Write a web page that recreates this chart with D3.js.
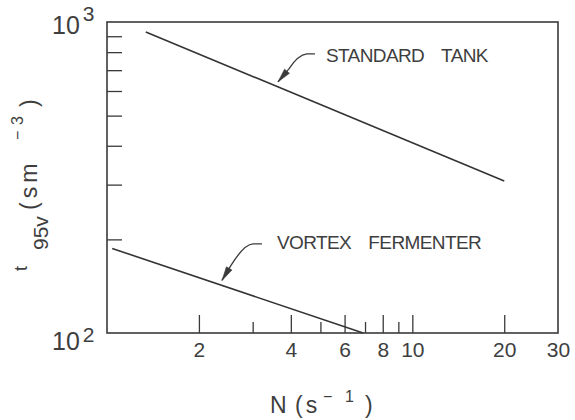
<!DOCTYPE html>
<html>
<head>
<meta charset="utf-8">
<script src="https://cdn.jsdelivr.net/npm/d3@7"></script>
<style>
  html, body { margin: 0; padding: 0; background: #fff; }
  svg { display: block; }
  text { font-family: "Liberation Sans", Arial, sans-serif; fill: #3e3e3e; }
</style>
</head>
<body>
<svg id="chart" width="575" height="420"></svg>
<script>
// Mixing time t95v versus agitation speed N (log–log), two vessel types

// Series end points: agitation speed N (1/s) and mixing time (s m^-3)
const standardN = [1.34, 20];
const standardT = [929, 308];
const vortexN = [1.04, 6.9];
const vortexT = [187, 100];

const seriesNames = ["STANDARD TANK", "VORTEX FERMENTER"];
// speed at which each label's arrow points onto its line
const arrowAtN = [3.63, 2.38];

// Axis ticks
const xMajorTicks = [2, 4, 6, 8, 10, 20];
const xMinorTicks = [3, 5, 7, 9];
const xTickLabels = [2, 4, 6, 8, 10, 20, 30];
const yMinorTicks = [200, 300, 400, 500, 600, 700, 800, 900];
const yDecades = [100, 1000];

const ink = "#3a3a3a";
const svg = d3.select("#chart");

const x = d3.scaleLog().domain([1, 30]).range([107, 558]);
const y = d3.scaleLog().domain([100, 1000]).range([333, 22]);

// ---- frame ----
svg.append("rect")
  .attr("x", x.range()[0]).attr("y", y.range()[1])
  .attr("width", x.range()[1] - x.range()[0])
  .attr("height", y.range()[0] - y.range()[1])
  .attr("fill", "none").attr("stroke", ink).attr("stroke-width", 1.6);

function styleAxis(g) {
  g.select(".domain").remove();
  g.selectAll(".tick line").attr("stroke", ink).attr("stroke-width", 1.3);
}

// ---- x axis: inward ticks, labels below ----
const xBase = y.range()[0];
svg.append("g").attr("transform", `translate(0,${xBase})`)
  .call(d3.axisBottom(x).tickValues(xMajorTicks).tickSize(-18).tickFormat(""))
  .call(styleAxis);
svg.append("g").attr("transform", `translate(0,${xBase})`)
  .call(d3.axisBottom(x).tickValues(xMinorTicks).tickSize(-11).tickFormat(""))
  .call(styleAxis);
const xLab = svg.append("g").attr("transform", `translate(0,${xBase})`)
  .call(d3.axisBottom(x).tickValues(xTickLabels).tickSize(0).tickPadding(9).tickFormat(d3.format("d")))
  .call(styleAxis);
xLab.selectAll("text")
  .attr("font-family", null).attr("font-size", 21).attr("fill", "#3e3e3e");
xLab.attr("font-family", null).attr("font-size", null);

// ---- y axis: inward minor ticks, decade labels as powers of ten ----
svg.append("g").attr("transform", `translate(${x.range()[0]},0)`)
  .call(d3.axisLeft(y).tickValues(yMinorTicks).tickSize(-15).tickFormat(""))
  .call(styleAxis);

const decadeLayout = { 100: { dy: 17, sup: -8 }, 1000: { dy: 12, sup: -13 } };
yDecades.forEach(v => {
  const lay = decadeLayout[v];
  const t = svg.append("text")
    .attr("x", 52).attr("y", y(v) + lay.dy)
    .attr("font-size", 25);
  t.append("tspan").text("10");
  t.append("tspan").attr("dx", 3).attr("dy", lay.sup)
    .attr("font-size", 21).text(Math.round(Math.log10(v)));
});

// ---- axis titles ----
const xt = svg.append("text").attr("font-size", 23);
xt.append("tspan").attr("x", 270).attr("y", 413).text("N");
xt.append("tspan").attr("x", 295).attr("y", 413).attr("letter-spacing", 3).text("(s");
xt.append("tspan").attr("x", 323).attr("y", 402).attr("font-size", 16).text("−");
xt.append("tspan").attr("x", 345).attr("y", 402).attr("font-size", 16).text("1");
xt.append("tspan").attr("x", 365).attr("y", 413).text(")");

const yt = svg.append("text").attr("transform", "rotate(-90)").attr("font-size", 23);
yt.append("tspan").attr("x", -271).attr("y", 27).attr("font-size", 18).text("t");
yt.append("tspan").attr("x", -250).attr("y", 48).attr("font-size", 21).text("95v");
yt.append("tspan").attr("x", -210).attr("y", 37).attr("letter-spacing", 4).text("(sm");
yt.append("tspan").attr("x", -140).attr("y", 23).attr("font-size", 16).text("−");
yt.append("tspan").attr("x", -125).attr("y", 23).attr("font-size", 16).text("3");
yt.append("tspan").attr("x", -107).attr("y", 37).text(")");

// ---- series lines ----
const series = [
  { N: standardN, T: standardT },
  { N: vortexN, T: vortexT }
];
const line = d3.line().x(d => x(d[0])).y(d => y(d[1]));
series.forEach(s => {
  svg.append("path")
    .datum(d3.zip(s.N, s.T))
    .attr("d", line)
    .attr("fill", "none").attr("stroke", "#333").attr("stroke-width", 1.6);
});

// ---- labels with curved leader arrows ----
// value on a straight log–log segment at speed n
function valueAt(s, n) {
  const [n0, n1] = s.N, [t0, t1] = s.T;
  const f = (Math.log(n) - Math.log(n0)) / (Math.log(n1) - Math.log(n0));
  return Math.exp(Math.log(t0) + f * (Math.log(t1) - Math.log(t0)));
}

// offsets (px) from the arrow tip
const leaderLayout = [
  { label: [48, -20], dash: [37, 29, -28], ctrl: [20, -27], base: [11, -13] },
  { label: [55, -31], dash: [40, 31, -36.5], ctrl: [22, -36], base: [9, -15] }
];

series.forEach((s, i) => {
  const n = arrowAtN[i];
  const tip = [x(n), y(valueAt(s, n)) - 5];
  const L = leaderLayout[i];
  const base = [tip[0] + L.base[0], tip[1] + L.base[1]];

  svg.append("path")
    .attr("d", `M${tip[0] + L.dash[0]},${tip[1] + L.dash[2]}` +
               `H${tip[0] + L.dash[1]}` +
               `Q${tip[0] + L.ctrl[0]},${tip[1] + L.ctrl[1]} ${base[0]},${base[1]}` +
               `L${tip[0]},${tip[1]}`)
    .attr("fill", "none").attr("stroke", ink).attr("stroke-width", 1.3);

  // arrowhead
  const dx = tip[0] - base[0], dy = tip[1] - base[1];
  const len = Math.hypot(dx, dy);
  const ux = dx / len, uy = dy / len;
  const hl = 14, hw = 3.2;
  const bx = tip[0] - ux * hl, by = tip[1] - uy * hl;
  svg.append("path")
    .attr("d", `M${tip[0]},${tip[1]}L${bx - uy * hw},${by + ux * hw}L${bx + uy * hw},${by - ux * hw}Z`)
    .attr("fill", ink).attr("stroke", ink).attr("stroke-width", 0.6);

  svg.append("text")
    .attr("x", tip[0] + L.label[0]).attr("y", tip[1] + L.label[1])
    .attr("font-size", 19)
    .attr("letter-spacing", -0.6)
    .attr("word-spacing", 12.5)
    .text(seriesNames[i]);
});
</script>
</body>
</html>
